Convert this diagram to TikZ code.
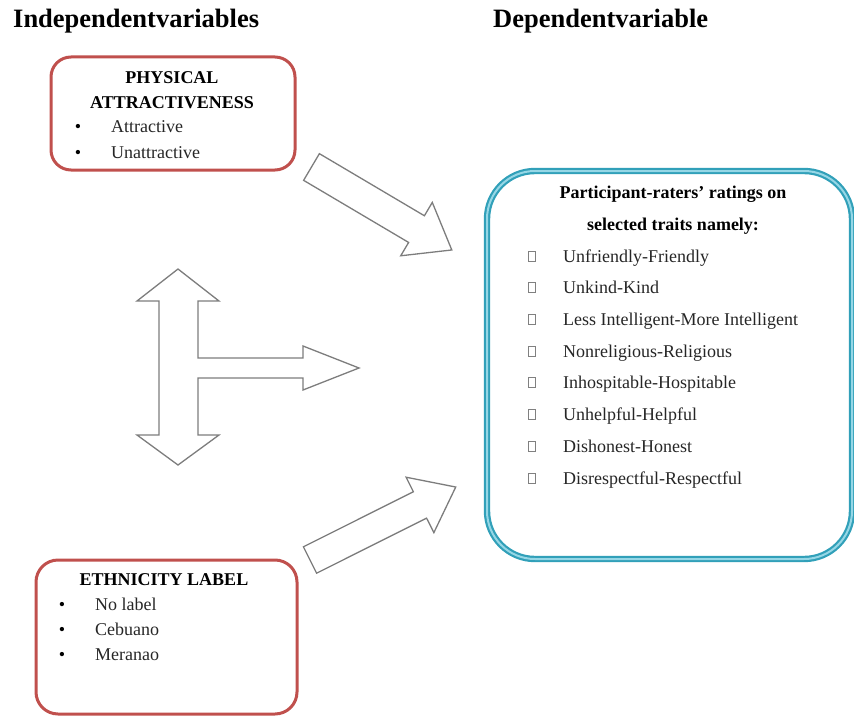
\documentclass[tikz,border=0pt]{standalone}
\usepackage{fontspec}
\setmainfont{Liberation Serif}
\usetikzlibrary{positioning}

\definecolor{boxred}{RGB}{192,80,77}
\definecolor{boxteal}{RGB}{49,160,185}
\definecolor{tealpale}{RGB}{150,215,230}
\definecolor{arrowgray}{RGB}{125,125,125}

\tikzset{
	heading/.style={font=\fontsize{26.5}{30}\selectfont\bfseries, inner sep=0pt, anchor=base west},
	redbox/.style={draw=boxred, line width=3pt, rounded corners=20pt, inner sep=0pt},
	tealbox/.style={draw=boxteal, line width=2.2pt, double=tealpale, double distance=2pt, rounded corners=48pt, inner sep=0pt},
	boxtitle/.style={font=\fontsize{18}{22}\selectfont\bfseries, inner sep=0pt, anchor=base},
	item/.style={font=\fontsize{18}{22}\selectfont, text=black!85, inner sep=0pt, anchor=base west},
	bul/.style={font=\fontsize{18}{22}\selectfont, inner sep=0pt, anchor=base},
	chk/.style={draw=gray, line width=0.9pt, minimum width=7pt, minimum height=10pt, inner sep=0pt, anchor=south},
	blockarrow/.style={draw=arrowgray, line width=1.3pt, fill=white, line join=miter},
}

\begin{document}
\begin{tikzpicture}[x=1pt,y=-1pt]
	\useasboundingbox (0,0) rectangle (854,717);
	
	% column headings
	\path (13,28) node[heading] (indep) {Independentvariables}
	(493,28) node[heading] (dep) {Dependentvariable};
	
	% the three boxes
	\node[redbox, minimum width=244pt, minimum height=113pt] (phys) at (173,113.5) {};
	\node[redbox, minimum width=261pt, minimum height=154pt, rounded corners=22pt] (ethn) at (166.5,637) {};
	\node[tealbox, minimum width=365pt, minimum height=388pt] (ratings) at (669.5,365) {};
	
	% physical attractiveness
	\path (172,83) node[boxtitle] (physT1) {PHYSICAL}
	(172,108) node[boxtitle] (physT2) {ATTRACTIVENESS}
	(78,132) node[bul] (physB1) {\textbullet}
	(111,132) node[item] (physI1) {Attractive}
	(78,158) node[bul] (physB2) {\textbullet}
	(111,158) node[item] (physI2) {Unattractive};
	
	% ethnicity label
	\path (164,585) node[boxtitle] (ethnT) {ETHNICITY LABEL}
	(62,610) node[bul] (ethnB1) {\textbullet}
	(95,610) node[item] (ethnI1) {No label}
	(62,635) node[bul] (ethnB2) {\textbullet}
	(95,635) node[item] (ethnI2) {Cebuano}
	(62,660) node[bul] (ethnB3) {\textbullet}
	(95,660) node[item] (ethnI3) {Meranao};
	
	% dependent variable
	\path (673,198) node[boxtitle] (ratT1) {Participant-raters’ ratings on}
	(673,230) node[boxtitle] (ratT2) {selected traits namely:}
	(532,262) node[chk] (c1) {} (563,262) node[item] (r1) {Unfriendly-Friendly}
	(532,293) node[chk] (c2) {} (563,293) node[item] (r2) {Unkind-Kind}
	(532,325) node[chk] (c3) {} (563,325) node[item] (r3) {Less Intelligent-More Intelligent}
	(532,357) node[chk] (c4) {} (563,357) node[item] (r4) {Nonreligious-Religious}
	(532,388) node[chk] (c5) {} (563,388) node[item] (r5) {Inhospitable-Hospitable}
	(532,420) node[chk] (c6) {} (563,420) node[item] (r6) {Unhelpful-Helpful}
	(532,452) node[chk] (c7) {} (563,452) node[item] (r7) {Dishonest-Honest}
	(532,484) node[chk] (c8) {} (563,484) node[item] (r8) {Disrespectful-Respectful};
	
	% block arrows
	\begin{scope}[shift={(311.5,167)}, rotate=-30.6]
		\draw[blockarrow] (0,-15.5) -- (122,-15.5) -- (122,-31) -- (163,0)
		-- (122,31) -- (122,15.5) -- (0,15.5) -- cycle;
	\end{scope}
	\begin{scope}[shift={(310,560)}, rotate=26.6]
		\draw[blockarrow] (0,-14.75) -- (123,-14.75) -- (123,-31) -- (163,0)
		-- (123,31) -- (123,14.75) -- (0,14.75) -- cycle;
	\end{scope}
	\draw[blockarrow] (178,269) -- (219,301) -- (198,301) -- (198,358) -- (303,358)
	-- (303,346) -- (359,368) -- (303,390) -- (303,378) -- (198,378) -- (198,435)
	-- (219,435) -- (178,465) -- (137,435) -- (159,435) -- (159,301) -- (137,301) -- cycle;
	
\end{tikzpicture}
\end{document}
